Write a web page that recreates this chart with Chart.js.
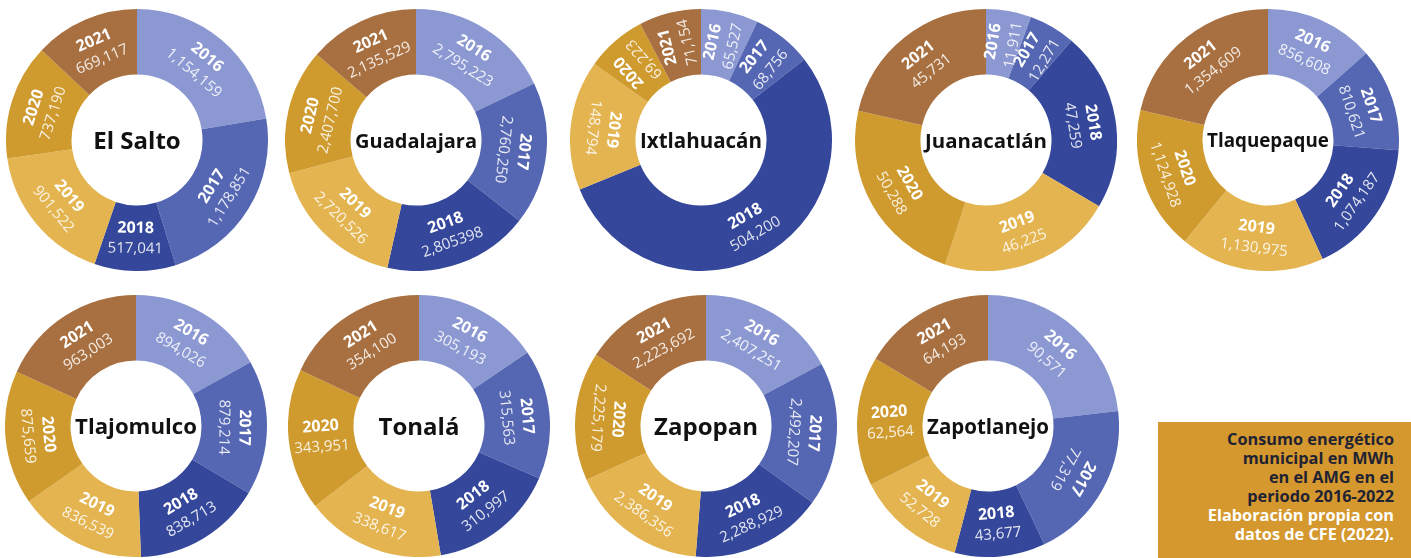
<!DOCTYPE html>
<html>
<head>
<meta charset="utf-8">
<script src="https://cdn.jsdelivr.net/npm/chart.js@4/dist/chart.umd.min.js"></script>
<style>
  html, body { margin: 0; padding: 0; background: #ffffff; }
  body { width: 1411px; height: 558px; position: relative; overflow: hidden; font-family: "Open Sans", sans-serif; }
  .donut { position: absolute; }
  .note {
    position: absolute; left: 1158px; top: 422px; width: 253px; height: 136px;
    background: #d4982e; box-sizing: border-box; padding: 8px 17px 0 0;
    text-align: right; font-family: "Open Sans", sans-serif; font-weight: 700;
    font-size: 16.3px; line-height: 18.9px; color: #1f2233;
  }
  .note .src { color: #ffffff; }
</style>
</head>
<body>
<div class="note">
  Consumo energético<br>municipal en MWh<br>en el AMG en el<br>periodo 2016-2022<br>
  <span class="src">Elaboración propia con<br>datos de CFE (2022).</span>
</div>
<script>
// ---------------- DATA ----------------
const years = ['2016', '2017', '2018', '2019', '2020', '2021'];
const municipalities = ['El Salto', 'Guadalajara', 'Ixtlahuacán', 'Juanacatlán', 'Tlaquepaque',
                        'Tlajomulco', 'Tonalá', 'Zapopan', 'Zapotlanejo'];
const elSalto     = [1154159, 1178851, 517041, 901522, 737190, 669117];
const guadalajara = [2795223, 2760250, 2805398, 2720526, 2407700, 2135529];
const ixtlahuacan = [65527, 68756, 504200, 148794, 69223, 71154];
const juanacatlan = [11911, 12271, 47259, 46225, 50288, 45731];
const tlaquepaque = [856608, 810621, 1074187, 1130975, 1124928, 1354609];
const tlajomulco  = [894026, 879214, 838713, 836539, 875659, 963003];
const tonala      = [305193, 315563, 310997, 338617, 343951, 354100];
const zapopan     = [2407251, 2492207, 2288929, 2386356, 2225179, 2223692];
const zapotlanejo = [90571, 77319, 43677, 52728, 62564, 64193];
const seriesByMunicipality = [elSalto, guadalajara, ixtlahuacan, juanacatlan, tlaquepaque,
                              tlajomulco, tonala, zapopan, zapotlanejo];
// value labels as printed in the source (one is printed without a comma)
const printedLabels = {
  'Guadalajara': { 2: '2,805398' }
};

// ---------------- STYLE / LAYOUT ----------------
const yearColors = ['#8b98d2', '#5567b3', '#34479a', '#e3b44f', '#cf9a2e', '#a87040'];
const centers = [[137, 140], [416, 140], [701, 140], [986, 140], [1268, 140],
                 [136, 426], [419, 426], [706, 426], [988, 426]];
const ringRadius = 131;
// orientation overrides (degrees) where the source turned a label differently
const rotationOverrides = {
  'Tonalá': { 4: -4 },
  'Zapotlanejo': { 4: -4 }
};

function fmt(v) { return v.toLocaleString('en-US'); }

const labelPlugin = {
  id: 'ringLabels',
  afterDatasetsDraw(chart, args, opts) {
    const ctx = chart.ctx;
    const meta = chart.getDatasetMeta(0);
    const name = opts.name;
    const ds = chart.data.datasets[0];
    meta.data.forEach((arc, i) => {
      const p = arc.getProps(['x', 'y', 'startAngle', 'endAngle', 'innerRadius', 'outerRadius'], true);
      const mid = (p.startAngle + p.endAngle) / 2;
      const span = (p.endAngle - p.startAngle) * 180 / Math.PI;
      const r = (p.innerRadius + p.outerRadius) / 2;
      const cx = p.x + Math.cos(mid) * r;
      const cy = p.y + Math.sin(mid) * r;
      let theta = (mid * 180 / Math.PI + 90) % 360; // clockwise from top
      if (theta < 0) theta += 360;
      let rot;
      if (span < 35) {
        rot = theta - 90;
      } else if (theta <= 120) {
        rot = theta;
      } else if (theta < 280) {
        rot = theta - 180;
      } else {
        rot = theta - 360;
      }
      if (rotationOverrides[name] && rotationOverrides[name][i] !== undefined) rot = rotationOverrides[name][i];
      const valText = (printedLabels[name] && printedLabels[name][i]) || fmt(ds.data[i]);
      ctx.save();
      ctx.translate(cx, cy);
      ctx.rotate(rot * Math.PI / 180);
      ctx.textAlign = 'center';
      ctx.textBaseline = 'middle';
      ctx.fillStyle = '#ffffff';
      ctx.font = '700 16px "Open Sans"';
      ctx.fillText(chart.data.labels[i], 0, -10);
      ctx.fillStyle = 'rgba(255,255,255,0.86)';
      ctx.font = '400 15px "Open Sans"';
      ctx.fillText(valText, 0, 10.5);
      ctx.restore();
    });
    // centre title
    const a0 = meta.data[0];
    ctx.save();
    ctx.fillStyle = '#111111';
    ctx.textAlign = 'center';
    ctx.textBaseline = 'middle';
    let size = 24;
    ctx.font = '700 ' + size + 'px "Open Sans"';
    const w = ctx.measureText(name).width;
    if (w > 122) { size = size * 122 / w; ctx.font = '700 ' + size.toFixed(1) + 'px "Open Sans"'; }
    ctx.fillText(name, a0.x, a0.y + 2);
    ctx.restore();
  }
};

municipalities.forEach((name, k) => {
  const div = document.createElement('div');
  div.className = 'donut';
  const [cx, cy] = centers[k];
  div.style.left = (cx - ringRadius) + 'px';
  div.style.top = (cy - ringRadius) + 'px';
  div.style.width = (2 * ringRadius) + 'px';
  div.style.height = (2 * ringRadius) + 'px';
  const canvas = document.createElement('canvas');
  div.appendChild(canvas);
  document.body.appendChild(div);
  new Chart(canvas, {
    type: 'doughnut',
    data: {
      labels: years,
      datasets: [{
        data: seriesByMunicipality[k],
        backgroundColor: yearColors,
        borderWidth: 0
      }]
    },
    options: {
      responsive: true,
      maintainAspectRatio: false,
      animation: false,
      cutout: '50%',
      layout: { padding: 0 },
      plugins: {
        legend: { display: false },
        tooltip: { enabled: false },
        ringLabels: { name: name }
      }
    },
    plugins: [labelPlugin]
  });
});
</script>
</body>
</html>
